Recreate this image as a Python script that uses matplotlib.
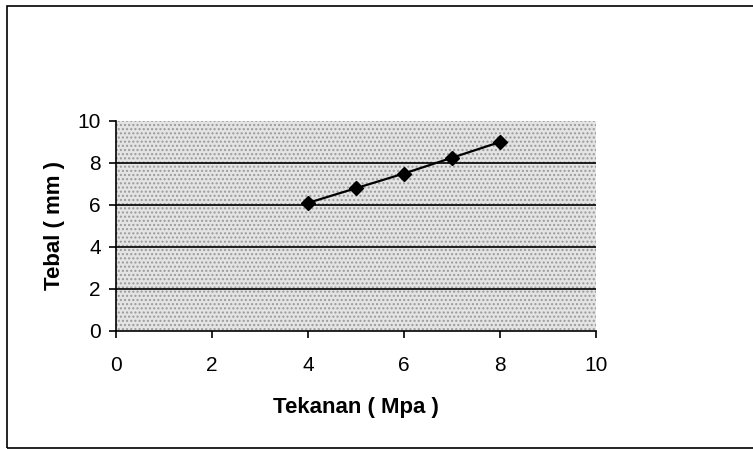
import matplotlib.pyplot as plt
from matplotlib.patches import Rectangle

# pressure (MPa) vs. thickness (mm)
tekanan = [4, 5, 6, 7, 8]
tebal = [6.1, 6.8, 7.5, 8.25, 9.0]
ticks = [0, 2, 4, 6, 8, 10]

plt.rcParams['font.family'] = ['Liberation Sans', 'DejaVu Sans']

fig = plt.figure(figsize=(7.53, 4.49), dpi=100)
W, H = 753, 449

# chart area border (right edge runs off the canvas)
fig.patches.append(Rectangle((7 / W, 1 - 448 / H), 1.0, (448 - 6) / H,
                             transform=fig.transFigure, fill=False,
                             edgecolor='black', linewidth=1.2))

left, right, top, bottom = 116, 596, 121, 331
ax = fig.add_axes([left / W, 1 - bottom / H, (right - left) / W, (bottom - top) / H])

# stippled grey plot area
ax.set_facecolor('#e4e4e4')
ax.add_patch(Rectangle((0, 0), 1, 1, transform=ax.transAxes, fill=False,
                       hatch='....', edgecolor='#9a9a9a', linewidth=0, zorder=0))

ax.plot(tekanan, tebal, color='black', linewidth=1.6, marker='D',
        markersize=7, zorder=3)

ax.set_xlim(0, 10)
ax.set_ylim(0, 10)
ax.set_xticks(ticks)
ax.set_yticks(ticks)
for y in ticks[1:-1]:
    ax.axhline(y, color='black', linewidth=1.2, zorder=1)

for s in ['top', 'right']:
    ax.spines[s].set_visible(False)
ax.spines['left'].set_linewidth(1.2)
ax.spines['bottom'].set_linewidth(1.2)
ax.tick_params(direction='out', length=5, width=1.2, labelsize=15)
ax.tick_params(axis='x', pad=13)
ax.tick_params(axis='y', pad=6)

ax.set_xlabel('Tekanan ( Mpa )', fontsize=16, fontweight='bold', labelpad=16)
ax.set_ylabel('Tebal ( mm )', fontsize=16, fontweight='bold', labelpad=9)

fig.savefig('out.png', dpi=100)
